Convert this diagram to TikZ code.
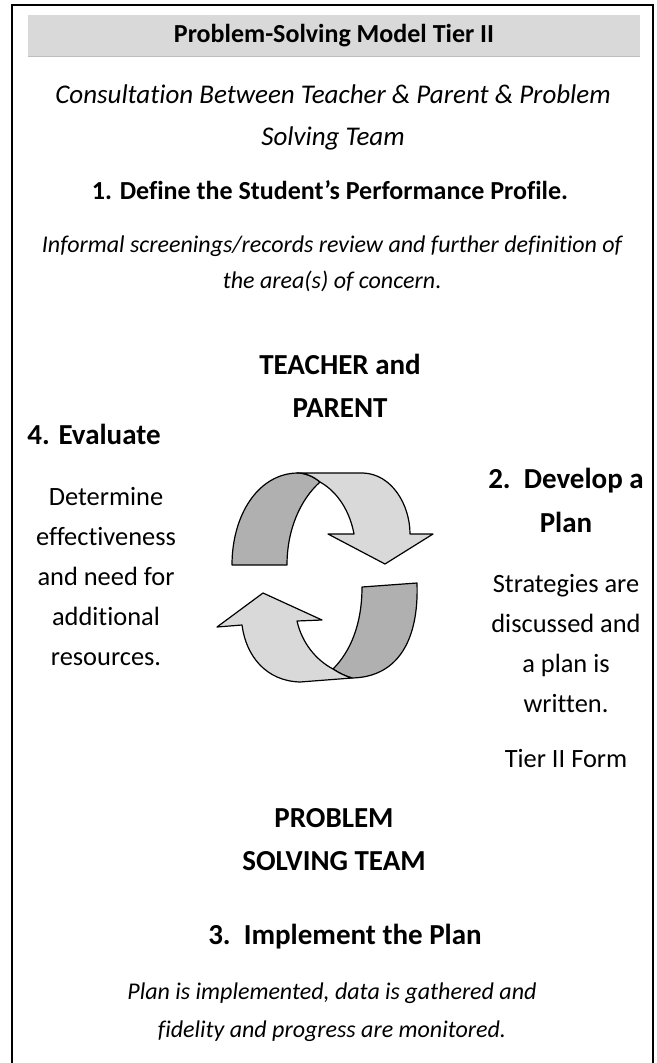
\documentclass[tikz,border=0pt]{standalone}
\usepackage{fontspec}
\setmainfont[Ligatures={NoCommon}]{Carlito}
\usetikzlibrary{positioning}

\definecolor{bandlight}{RGB}{217,217,217}
\definecolor{banddark}{RGB}{176,176,176}
\definecolor{headgray}{RGB}{217,217,217}
\definecolor{headline}{RGB}{190,190,190}

\begin{document}
\begin{tikzpicture}[
        x=0.5pt, y=-0.5pt,
        txt/.style={inner sep=0pt, align=center},
        head/.style={txt, font=\fontsize{13}{21}\selectfont\bfseries},
        smallit/.style={txt, font=\fontsize{12}{18}\selectfont\itshape},
        big/.style={txt, font=\fontsize{14.5}{21.5}\selectfont\bfseries},
        body/.style={txt, font=\fontsize{13.2}{20}\selectfont},
        band/.style={draw=black, line width=0.6pt, line join=round}
    ]
    \useasboundingbox (0,0) rectangle (657,1063);

    % frame and header bar
    \draw[line width=1pt] (12,1070) -- (12,5) -- (653,5) -- (653,1070);
    \fill[headgray] (28,15) rectangle (640,57);
    \draw[headline, line width=0.5pt] (28,57) -- (640,57);

    % top texts
    \node[head] (title) at (334,36) {Problem-Solving Model Tier II};
    \node[smallit, font=\fontsize{13.5}{21}\selectfont\itshape] (consult) at (333,117) {Consultation Between Teacher \& Parent \& Problem\\ Solving Team};
    \node[head] (define) at (330,190) {1. Define the Student’s Performance Profile.};
    \node[smallit] (informal) at (332,264) {Informal screenings/records review and further definition of\\ the area(s) of concern\upshape.};

    % cycle labels
    \node[big] (teacher) at (340,386) {TEACHER and\\ PARENT};
    \node[big] (evaluate) at (94,434) {4. Evaluate};
    \node[body] (determine) at (106,577) {Determine\\ effectiveness\\ and need for\\ additional\\ resources.};
    \node[big, font=\fontsize{14.5}{22}\selectfont\bfseries] (develop) at (566,500) {2.\ \ Develop a\\ Plan};
    \node[body] (strategies) at (566,644) {Strategies are\\ discussed and\\ a plan is\\ written.};
    \node[body] (tierform) at (566,759) {Tier II Form};
    \node[big] (problem) at (334,840) {PROBLEM\\ SOLVING TEAM};
    \node[big] (implement) at (345,937) {3.\ \ Implement the Plan};
    \node[smallit, font=\fontsize{12}{19}\selectfont\itshape] (monitor) at (332,1012) {Plan is implemented, data is gathered and\\ fidelity and progress are monitored.};

    % upper arrow: dark fold, then light shaft with head
    \draw[band, fill=banddark] (232,565) -- (287,565)
        .. controls (287,530) and (300,500) .. (320,482)
        .. controls (313,476) and (305,473) .. (297,473)
        .. controls (258,474) and (232,515) .. (232,565) -- cycle;
    \draw[band, fill=bandlight] (297,473) -- (363,473)
        .. controls (392,474) and (410,505) .. (410,534)
        -- (433,534) -- (385,564) -- (328,534) -- (354,534)
        .. controls (350,512) and (338,492) .. (320,482)
        .. controls (313,476) and (305,473) .. (297,473) -- cycle;

    % lower arrow: dark fold, then light shaft with head
    \draw[band, fill=banddark] (362,587) -- (417,583)
        .. controls (419,640) and (398,677) .. (352,678)
        .. controls (345,676) and (339,673) .. (333,669)
        .. controls (350,652) and (362,625) .. (362,587) -- cycle;
    \draw[band, fill=bandlight] (352,678) -- (300,682)
        .. controls (266,681) and (246,656) .. (242,625)
        -- (217,627) -- (263,593) -- (322,620) -- (297,621)
        .. controls (302,643) and (316,660) .. (333,669)
        .. controls (339,673) and (345,676) .. (352,678) -- cycle;

\end{tikzpicture}
\end{document}
